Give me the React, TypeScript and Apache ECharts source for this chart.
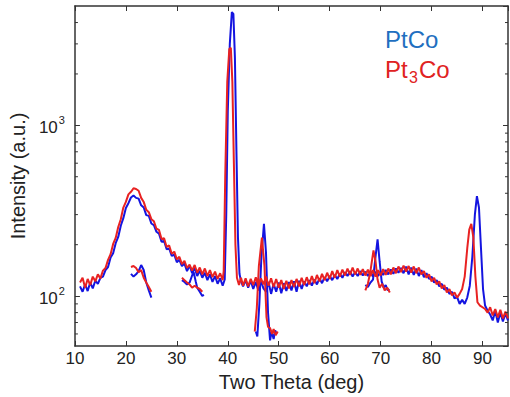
import React, { useEffect, useRef } from "react";
import * as echarts from "echarts";

// ---- data (two theta in deg, intensity in a.u.) ----
const blueMain: [number, number][] = [
  [11, 114], [11.5, 106], [12, 117], [12.5, 107], [13, 120], [13.5, 111], [14, 123], [14.5, 118], [15, 128], [15.5, 130],
  [16, 142], [16.5, 148], [17, 168], [17.5, 178], [18, 204], [18.5, 222], [19, 258], [19.5, 286], [20, 328], [20.5, 350],
  [21, 378], [21.5, 388], [22, 376], [22.5, 372], [23, 340], [23.5, 330], [24, 298], [24.5, 295], [25, 266], [25.5, 260],
  [26, 238], [26.5, 232], [27, 208], [27.5, 210], [28, 188], [28.5, 190], [29, 172], [29.5, 175], [30, 158], [30.5, 163],
  [31, 150], [31.5, 155], [32, 140], [32.5, 151], [33, 136], [33.5, 146], [34, 131], [34.5, 141], [35, 128], [35.5, 137],
  [36, 124], [36.5, 134], [37, 121], [37.5, 131], [38, 118], [38.5, 127], [39, 115], [39.4, 125], [39.7, 300], [40, 1200],
  [40.4, 3000], [40.8, 4600], [41.1, 4500], [41.4, 2500], [41.7, 700], [42, 220], [42.3, 135], [42.6, 122], [43, 114], [43.5, 124],
  [44, 112], [44.5, 123], [45, 110], [45.5, 121], [46, 108], [46.5, 123], [47, 111], [47.5, 106], [48, 121], [48.5, 103],
  [49, 118], [49.5, 106], [50, 120], [50.5, 104], [51, 119], [51.5, 107], [52, 121], [52.5, 108], [53, 122], [53.5, 106],
  [54, 123], [54.5, 110], [55, 122], [55.5, 114], [56, 124], [56.5, 115], [57, 125], [57.5, 117], [58, 127], [58.5, 119],
  [59, 129], [59.5, 122], [60, 131], [60.5, 124], [61, 133], [61.5, 126], [62, 135], [62.5, 128], [63, 138], [63.5, 131],
  [64, 140], [64.5, 130], [65, 138], [65.5, 131], [66, 140], [66.5, 132], [67, 139], [67.5, 131], [68, 138], [68.5, 130],
  [69, 139], [69.5, 131], [70, 140], [70.5, 133], [71, 142], [71.5, 134], [72, 143], [72.5, 135], [73, 145], [73.5, 137],
  [74, 146], [74.5, 136], [75, 149], [75.5, 134], [76, 147], [76.5, 133], [77, 145], [77.5, 131], [78, 142], [78.5, 129],
  [79, 136], [79.5, 126], [80, 130], [80.5, 120], [81, 124], [81.5, 114], [82, 118], [82.5, 109], [83, 112], [83.5, 103],
  [84, 106], [84.5, 97], [85, 99], [85.5, 90], [86, 95], [86.5, 90], [87, 98], [87.5, 115], [88, 170], [88.5, 300],
  [88.9, 385], [89.3, 330], [89.7, 190], [90.1, 110], [90.5, 88], [91, 82], [91.5, 78], [92, 72], [92.5, 82], [93, 70],
  [93.5, 80], [94, 71], [94.5, 79], [95, 72],
];
const redMain: [number, number][] = [
  [11, 120], [11.5, 128], [12, 112], [12.5, 126], [13, 116], [13.5, 130], [14, 122], [14.5, 134], [15, 127], [15.5, 141],
  [16, 146], [16.5, 163], [17, 176], [17.5, 202], [18, 219], [18.5, 254], [19, 282], [19.5, 330], [20, 356], [20.5, 394],
  [21, 408], [21.5, 428], [22, 424], [22.5, 414], [23, 376], [23.5, 356], [24, 320], [24.5, 310], [25, 282], [25.5, 274],
  [26, 248], [26.5, 244], [27, 216], [27.5, 218], [28, 194], [28.5, 198], [29, 177], [29.5, 182], [30, 164], [30.5, 170],
  [31, 154], [31.5, 161], [32, 146], [32.5, 153], [33, 141], [33.5, 152], [34, 137], [34.5, 147], [35, 134], [35.5, 145],
  [36, 131], [36.5, 142], [37, 129], [37.5, 139], [38, 126], [38.5, 136], [39, 124], [39.2, 140], [39.5, 500], [39.9, 1800],
  [40.3, 2800], [40.6, 2850], [40.9, 1800], [41.2, 600], [41.5, 200], [41.8, 128], [42.2, 116], [42.6, 128], [43, 115], [43.5, 127],
  [44, 114], [44.5, 126], [45, 116], [45.5, 129], [46, 114], [46.5, 127], [47, 117], [47.5, 130], [48, 115], [48.5, 127],
  [49, 113], [49.5, 126], [50, 112], [50.5, 124], [51, 110], [51.5, 123], [52, 111], [52.5, 124], [53, 113], [53.5, 126],
  [54, 114], [54.5, 128], [55, 116], [55.5, 129], [56, 117], [56.5, 131], [57, 119], [57.5, 133], [58, 122], [58.5, 135],
  [59, 124], [59.5, 137], [60, 126], [60.5, 140], [61, 128], [61.5, 142], [62, 130], [62.5, 143], [63, 132], [63.5, 145],
  [64, 133], [64.5, 147], [65, 134], [65.5, 145], [66, 133], [66.5, 144], [67, 132], [67.5, 143], [68, 131], [68.5, 142],
  [69, 130], [69.5, 142], [70, 132], [70.5, 144], [71, 133], [71.5, 145], [72, 134], [72.5, 147], [73, 136], [73.5, 149],
  [74, 138], [74.5, 151], [75, 139], [75.5, 150], [76, 137], [76.5, 149], [77, 136], [77.5, 147], [78, 134], [78.5, 140],
  [79, 128], [79.5, 134], [80, 122], [80.5, 128], [81, 117], [81.5, 122], [82, 111], [82.5, 116], [83, 105], [83.5, 110],
  [84, 101], [84.5, 105], [85, 98], [85.5, 103], [86, 110], [86.5, 130], [87, 190], [87.4, 245], [87.8, 265], [88.2, 220],
  [88.6, 130], [89, 92], [89.5, 88], [90, 86], [90.5, 84], [91, 80], [91.5, 86], [92, 77], [92.5, 84], [93, 75],
  [93.5, 83], [94, 74], [94.5, 81], [95, 74],
];
const blueSeg21: [number, number][] = [[21, 135], [21.5, 130], [22, 134], [22.5, 140], [23, 152], [23.5, 142], [24, 120], [24.5, 108], [25, 98]];
const redSeg21: [number, number][] = [[21, 148], [21.5, 150], [22, 146], [22.5, 138], [23, 142], [23.5, 128], [24, 120], [24.5, 113], [25, 106]];
const blueSeg33: [number, number][] = [[31, 124], [31.5, 121], [32, 117], [32.5, 120], [33, 132], [33.3, 138], [33.7, 122], [34, 112], [34.5, 106], [35, 100], [35.3, 102]];
const redSeg33: [number, number][] = [[31, 128], [31.5, 124], [32, 120], [32.5, 117], [33, 112], [33.5, 115], [34, 112], [34.5, 110], [35, 106]];
const blueSeg47: [number, number][] = [[45.5, 62], [45.8, 58], [46.2, 90], [46.6, 170], [47.1, 265], [47.5, 180], [47.9, 80], [48.3, 55], [48.6, 62], [49, 56], [49.3, 63], [49.6, 60]];
const redSeg47: [number, number][] = [[45.3, 62], [45.7, 85], [46.1, 150], [46.7, 220], [47.2, 150], [47.6, 75], [47.9, 66], [48.3, 65], [48.7, 60], [49, 64], [49.4, 59], [49.8, 62]];
const blueSeg69: [number, number][] = [[67, 116], [67.5, 113], [68, 120], [68.5, 125], [69, 170], [69.4, 215], [69.8, 160], [70.2, 122], [70.6, 112], [71, 116], [71.4, 108], [71.7, 110]];
const redSeg69: [number, number][] = [[67, 108], [67.5, 118], [68, 140], [68.6, 185], [69, 160], [69.4, 125], [69.8, 112], [70.3, 118], [70.8, 108], [71.3, 112], [71.8, 105]];

const blueSegments = [blueMain, blueSeg21, blueSeg33, blueSeg47, blueSeg69];
const redSegments = [redMain, redSeg21, redSeg33, redSeg47, redSeg69];

const minorTickValues = [60, 70, 80, 90, 200, 300, 400, 500, 600, 700, 800, 900, 2000, 3000, 4000];

const X_MIN = 10;
const X_MAX = 95;
const Y_MIN = 51;
const Y_MAX = 5000;

const BLUE = "#1414e0";
const RED = "#e82222";
const AXIS = "#333333";
const FONT = "Liberation Sans, Arial, sans-serif";

function joinSegments(segs: [number, number][][]) {
  const out: any[] = [];
  segs.forEach((s, i) => {
    if (i > 0) out.push([null, null]);
    s.forEach((p) => out.push(p));
  });
  return out;
}

function logLabel(v: number) {
  const e = Math.round(Math.log10(v));
  if (Math.abs(Math.pow(10, e) - v) > 1e-6 * v) return "";
  return `{b|10}{s|${e}}`;
}

export default function App() {
  const ref = useRef<HTMLDivElement>(null);
  useEffect(() => {
    const chart = echarts.init(ref.current!, null, { renderer: "svg" });
    const yCommon = {
      type: "log" as const,
      min: Y_MIN,
      max: Y_MAX,
      logBase: 10,
      splitLine: { show: false },
      axisLine: { show: true, lineStyle: { color: AXIS, width: 1.5 } },
      axisTick: { show: true, inside: true, length: 5, lineStyle: { color: AXIS } },
    };
    const xCommon = {
      type: "value" as const,
      min: X_MIN,
      max: X_MAX,
      interval: 10,
      splitLine: { show: false },
      axisLine: { show: true, onZero: false, lineStyle: { color: AXIS, width: 1.5 } },
      axisTick: { show: true, inside: true, length: 5, lineStyle: { color: AXIS } },
    };
    chart.setOption({
      animation: false,
      backgroundColor: "#ffffff",
      grid: { left: 69, right: 2, top: 6, bottom: 51, containLabel: false },
      xAxis: [
        {
          ...xCommon,
          position: "bottom",
          name: "Two Theta (deg)",
          nameLocation: "middle",
          nameGap: 20,
          nameTextStyle: { fontFamily: FONT, fontSize: 20, color: "#222" },
          axisLabel: { fontFamily: FONT, fontSize: 17, color: "#222", margin: 4, showMaxLabel: false },
        },
        { ...xCommon, position: "top", axisLabel: { show: false } },
      ],
      yAxis: [
        {
          ...yCommon,
          position: "left",
          name: "Intensity (a.u.)",
          nameLocation: "middle",
          nameGap: 38,
          nameTextStyle: { fontFamily: FONT, fontSize: 20, color: "#222" },
          axisLabel: {
            fontFamily: FONT,
            color: "#222",
            margin: 10,
            showMinLabel: false,
            showMaxLabel: false,
            formatter: logLabel,
            rich: {
              b: { fontFamily: FONT, fontSize: 17, color: "#222", lineHeight: 22, verticalAlign: "bottom" },
              s: { fontFamily: FONT, fontSize: 11, color: "#222", lineHeight: 22, verticalAlign: "top", padding: [0, 0, 0, 1] },
            },
          },
        },
        { ...yCommon, position: "right", axisLabel: { show: false } },
      ],
      series: [
        {
          type: "line",
          name: "PtCo",
          data: joinSegments(blueSegments),
          showSymbol: false,
          connectNulls: false,
          lineStyle: { color: BLUE, width: 2 },
          itemStyle: { color: BLUE },
          z: 2,
        },
        {
          type: "line",
          name: "Pt3Co",
          data: joinSegments(redSegments),
          showSymbol: false,
          connectNulls: false,
          lineStyle: { color: RED, width: 2 },
          itemStyle: { color: RED },
          z: 3,
        },
        {
          type: "custom",
          name: "minorTicks",
          data: minorTickValues.map((v) => [X_MIN, v]),
          silent: true,
          z: 5,
          renderItem: (params: any, api: any) => {
            const v = api.value(1);
            const l = api.coord([X_MIN, v]);
            const r = api.coord([X_MAX, v]);
            return {
              type: "group",
              children: [
                { type: "line", shape: { x1: l[0], y1: l[1], x2: l[0] + 3, y2: l[1] }, style: { stroke: AXIS, lineWidth: 1 } },
                { type: "line", shape: { x1: r[0], y1: r[1], x2: r[0] - 3, y2: r[1] }, style: { stroke: AXIS, lineWidth: 1 } },
              ],
            };
          },
        },
      ],
      graphic: [
        {
          type: "text",
          left: 385,
          top: 27,
          style: { text: "PtCo", fontFamily: FONT, fontSize: 24, fill: "#1f6fc0" },
        },
        {
          type: "group",
          left: 385,
          top: 57,
          children: [
            { type: "text", x: 0, y: 0, style: { text: "Pt", fontFamily: FONT, fontSize: 24, fill: "#e02222" } },
            { type: "text", x: 24, y: 12, style: { text: "3", fontFamily: FONT, fontSize: 16, fill: "#e02222" } },
            { type: "text", x: 34, y: 0, style: { text: "Co", fontFamily: FONT, fontSize: 24, fill: "#e02222" } },
          ],
        },
      ],
    });
    return () => chart.dispose();
  }, []);
  return <div ref={ref} style={{ position: "fixed", left: 0, top: 0, width: 510, height: 397 }} />;
}
